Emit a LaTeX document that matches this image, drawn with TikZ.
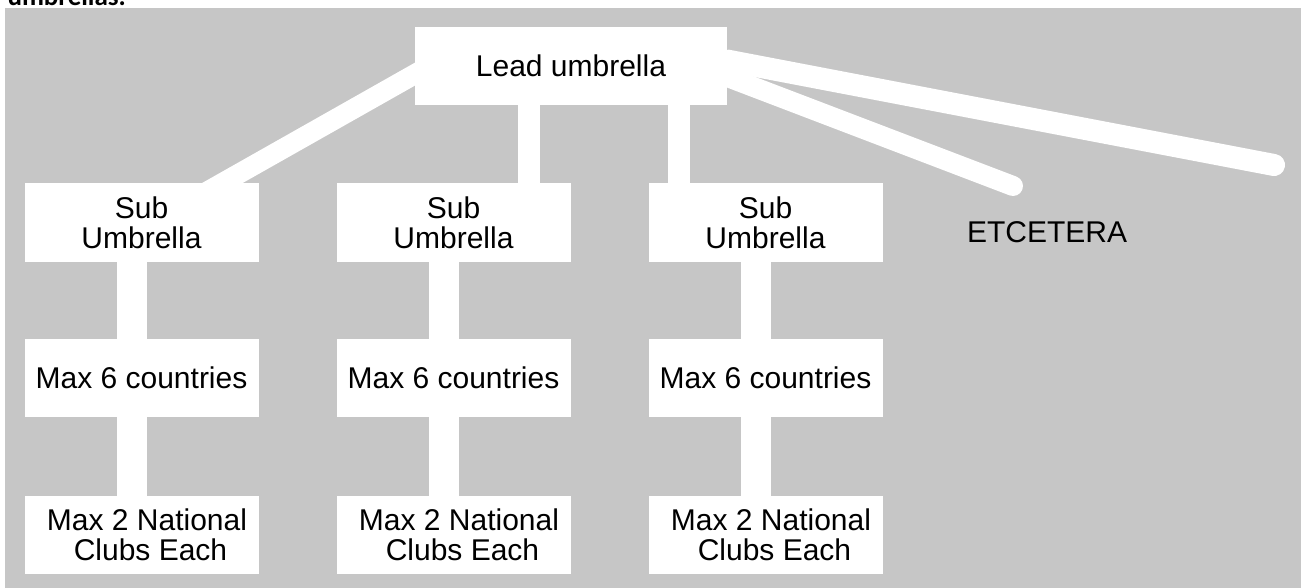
\documentclass[tikz,border=0pt]{standalone}
\usepackage{fontspec}
\setmainfont{Liberation Sans}
\newfontfamily\headfont{Carlito}
\definecolor{bggray}{RGB}{198,198,198}

\newcommand{\BoxW}{234}
\newcommand{\BoxH}{78}
\newcommand{\LeadW}{312}

\tikzset{
  umbox/.style={fill=white,inner sep=0pt,minimum width=\BoxW pt,minimum height=\BoxH pt,
    align=center,font=\fontsize{30}{30}\selectfont},
  stemline/.style={white,line width=30pt},
  armline/.style={white,line width=20pt},
}

\begin{document}
\begin{tikzpicture}[x=1pt,y=-1pt]
\useasboundingbox (0,0) rectangle (1301,588);
\fill[bggray] (5,8) rectangle (1301,588);% Backdrop
\node[anchor=base west,font=\headfont\bfseries\fontsize{27}{27}\selectfont] (H) at (4,6) {umbrellas.};

\coordinate (E1) at (1274,165);
\coordinate (E2) at (1013,186);

\node[umbox,minimum width=\LeadW pt] (L) at (571,66) {Lead umbrella};
\foreach \i/\x in {1/141.5,2/453.5,3/765.5}{
    \node[umbox] (S\i) at (\x,222.5) {Sub\\Umbrella};
    \node[umbox] (M\i) at (\x,378) {Max 6 countries};
    \node[umbox] (N\i) at (\x,535) {\hspace*{11pt}Max 2 National\\\hspace*{18pt}Clubs Each};
}
\node[anchor=base,font=\fontsize{30}{30}\selectfont] (T) at (1047,243) {ETCETERA};

\draw[armline,shorten <=-20pt,shorten >=-20pt] (L.183) -- (S1.26);% Left arm
\draw[armline,line width=22pt] ([xshift=-42pt]L.south) -- ([xshift=75.5pt]S2.north);% Middle arm
\draw[armline,line width=22pt] ([xshift=108pt]L.south) -- ([xshift=-86.5pt]S3.north);% Right arm
\draw[armline,line width=22pt,line cap=round] (L.2) -- (E1);% Long tail
\draw[armline,line cap=round] (L.356) -- (E2);% Short tail
\foreach \i in {1,2,3}{
    \draw[stemline] ([xshift=-10pt]S\i.south) -- ([xshift=-10pt]M\i.north);
    \draw[stemline] ([xshift=-10pt]M\i.south) -- ([xshift=-10pt]N\i.north);
}
\end{tikzpicture}
\end{document}
